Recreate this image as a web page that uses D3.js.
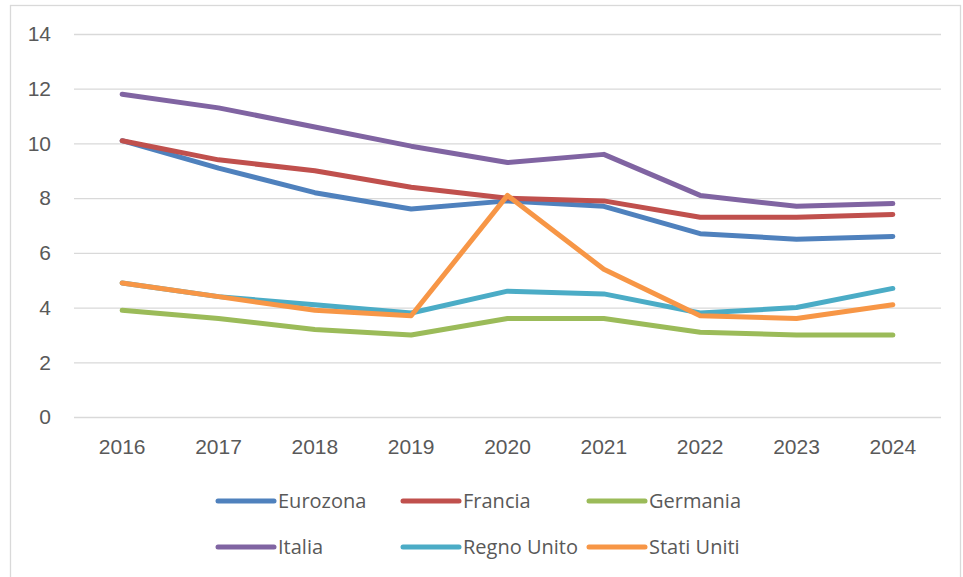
<!DOCTYPE html>
<html>
<head>
<meta charset="utf-8">
<script src="https://cdn.jsdelivr.net/npm/d3@7"></script>
<style>
  html, body { margin: 0; padding: 0; background: #fff; }
  svg { display: block; font-family: "Open Sans", Calibri, sans-serif; }
</style>
</head>
<body>
<svg id="chart" width="963" height="577"></svg>
<script>
const years = ["2016", "2017", "2018", "2019", "2020", "2021", "2022", "2023", "2024"];
const yTicks = [0, 2, 4, 6, 8, 10, 12, 14];

const eurozona   = [10.1, 9.1, 8.2, 7.6, 7.9, 7.7, 6.7, 6.5, 6.6];
const francia    = [10.1, 9.4, 9.0, 8.4, 8.0, 7.9, 7.3, 7.3, 7.4];
const germania   = [3.9, 3.6, 3.2, 3.0, 3.6, 3.6, 3.1, 3.0, 3.0];
const italia     = [11.8, 11.3, 10.6, 9.9, 9.3, 9.6, 8.1, 7.7, 7.8];
const regnoUnito = [4.9, 4.4, 4.1, 3.8, 4.6, 4.5, 3.8, 4.0, 4.7];
const statiUniti = [4.9, 4.4, 3.9, 3.7, 8.1, 5.4, 3.7, 3.6, 4.1];

const seriesNames  = ["Eurozona", "Francia", "Germania", "Italia", "Regno Unito", "Stati Uniti"];
const seriesColors = ["#4F81BD", "#C0504D", "#9BBB59", "#8064A2", "#4BACC6", "#F79646"];
const seriesValues = [eurozona, francia, germania, italia, regnoUnito, statiUniti];

const series = seriesNames.map((name, i) => ({ name, color: seriesColors[i], values: seriesValues[i] }));

const svg = d3.select("#chart");

// chart area frame
svg.append("rect")
  .attr("x", 10.5).attr("y", 5.5)
  .attr("width", 950).attr("height", 620)
  .attr("fill", "#fff").attr("stroke", "#d9d9d9").attr("stroke-width", 1.3);

const plot = { left: 74, right: 941, top: 34, bottom: 417 };

const x = d3.scaleBand().domain(years).range([plot.left, plot.right]);
const y = d3.scaleLinear().domain([0, 14]).range([plot.bottom, plot.top]);

// horizontal gridlines + value labels
const yAxis = d3.axisLeft(y).tickValues(yTicks).tickSize(-(plot.right - plot.left)).tickPadding(23);
const gy = svg.append("g").attr("transform", `translate(${plot.left},0)`).call(yAxis);
gy.select(".domain").remove();
gy.selectAll(".tick line").attr("stroke", "#d9d9d9").attr("stroke-width", 1.3);
gy.selectAll(".tick text").attr("fill", "#595959").attr("font-size", 21);

// category labels
const xAxis = d3.axisBottom(x).tickSize(0).tickPadding(22);
const gx = svg.append("g").attr("transform", `translate(0,${plot.bottom})`).call(xAxis);
gx.select(".domain").remove();
gx.selectAll(".tick text").attr("fill", "#595959").attr("font-size", 21);

// series lines
const line = d3.line()
  .x((d, i) => x(years[i]) + x.bandwidth() / 2)
  .y(d => y(d));

svg.append("g").selectAll("path")
  .data(series)
  .join("path")
  .attr("d", d => line(d.values))
  .attr("fill", "none")
  .attr("stroke", d => d.color)
  .attr("stroke-width", 5)
  .attr("stroke-linecap", "round")
  .attr("stroke-linejoin", "round");

// legend: two rows of three
const legendCols = [218, 403, 589];
const legendRows = [501, 547];
const lg = svg.append("g").selectAll("g")
  .data(series)
  .join("g")
  .attr("transform", (d, i) => `translate(${legendCols[i % 3]},${legendRows[Math.floor(i / 3)]})`);

lg.append("line")
  .attr("x1", 0).attr("x2", 56).attr("y1", 0).attr("y2", 0)
  .attr("stroke", d => d.color).attr("stroke-width", 5).attr("stroke-linecap", "round");

lg.append("text")
  .attr("x", 60).attr("y", 0).attr("dy", "0.36em")
  .attr("fill", "#595959").attr("font-size", 20)
  .text(d => d.name);
</script>
</body>
</html>
